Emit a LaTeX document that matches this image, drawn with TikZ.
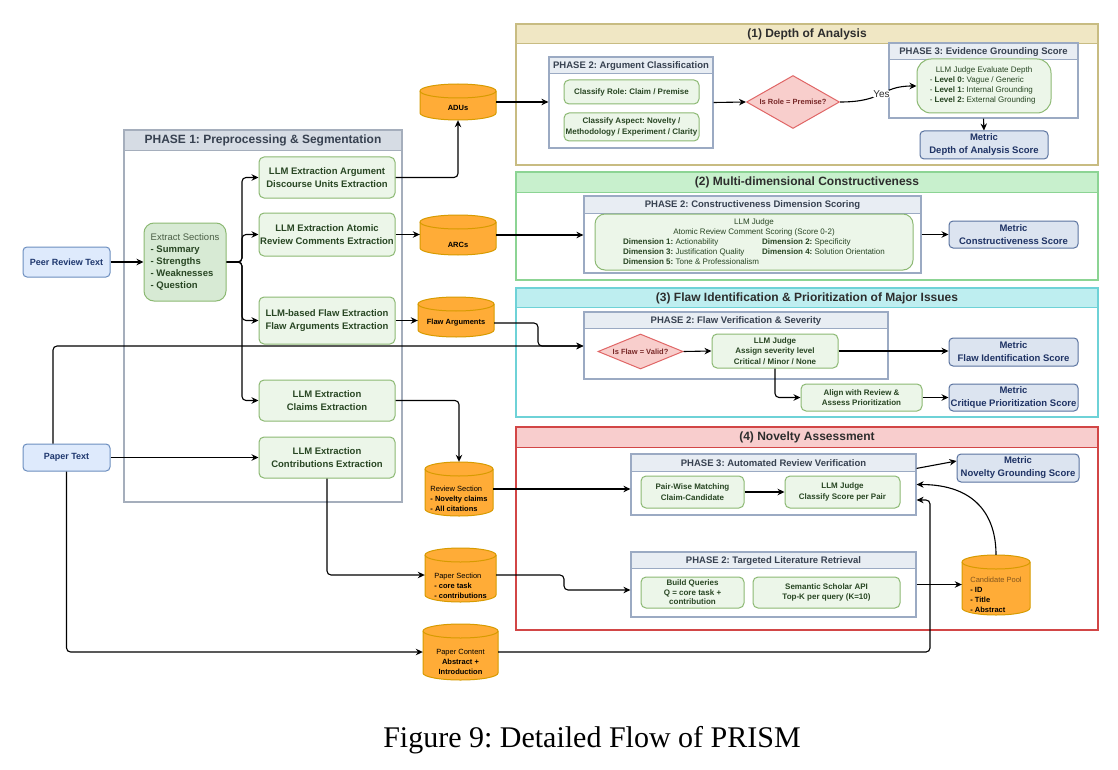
\documentclass[tikz,border=0pt]{standalone}
\usepackage{fontspec}
\setmainfont{Liberation Sans}
\newfontfamily\capfont{Liberation Serif}
\usetikzlibrary{shapes.geometric,arrows.meta,calc}
\frenchspacing
\definecolor{inB}{RGB}{108,142,191}
\definecolor{inF}{RGB}{222,234,252}
\definecolor{inT}{RGB}{30,55,110}
\definecolor{gB}{RGB}{140,185,115}
\definecolor{gD}{RGB}{215,234,212}
\definecolor{gL}{RGB}{236,246,233}
\definecolor{gT}{RGB}{40,70,35}
\definecolor{gT2}{RGB}{75,95,70}
\definecolor{mB}{RGB}{90,115,160}
\definecolor{mF}{RGB}{220,228,240}
\definecolor{mT}{RGB}{30,50,100}
\definecolor{dB}{RGB}{224,102,102}
\definecolor{dF}{RGB}{248,206,204}
\definecolor{dT}{RGB}{120,40,40}
\definecolor{cB}{RGB}{215,155,0}
\definecolor{cF}{RGB}{255,172,55}
\definecolor{cT}{RGB}{130,85,30}
\definecolor{phB}{RGB}{155,170,195}
\definecolor{phF}{RGB}{232,237,243}
\definecolor{phT}{RGB}{55,65,80}
\definecolor{p1B}{RGB}{165,174,188}
\definecolor{p1F}{RGB}{214,220,228}
\definecolor{aB}{RGB}{200,188,130}
\definecolor{aF}{RGB}{240,231,196}
\definecolor{bB}{RGB}{140,212,148}
\definecolor{bF}{RGB}{200,240,205}
\definecolor{cyB}{RGB}{110,210,215}
\definecolor{cyF}{RGB}{190,238,240}
\definecolor{rB}{RGB}{210,70,70}
\definecolor{rF}{RGB}{248,205,205}
\definecolor{secT}{RGB}{45,45,45}
\tikzset{
 base/.style={inner sep=1pt, align=center},
 inbox/.style={base, rounded corners=4pt, draw=inB, fill=inF, line width=1pt, text=inT, font=\fontsize{9}{11}\selectfont\bfseries},
 gdark/.style={base, rounded corners=10pt, draw=gB, fill=gD, line width=1pt, text=gT, font=\fontsize{9.5}{12}\selectfont\bfseries},
 gbox/.style={base, rounded corners=5pt, draw=gB, fill=gL, line width=1pt, text=gT, font=\fontsize{9.5}{13}\selectfont\bfseries},
 gsmall/.style={gbox, font=\fontsize{8}{10.5}\selectfont\bfseries},
 gjudge/.style={gbox, rounded corners=12pt, font=\fontsize{8}{10}\selectfont\mdseries},
 metric/.style={base, rounded corners=4pt, draw=mB, fill=mF, line width=1pt, text=mT, font=\fontsize{9.5}{13}\selectfont\bfseries},
 diam/.style={diamond, draw=dB, fill=dF, line width=1pt, text=dT, inner sep=0, font=\fontsize{7.5}{9}\selectfont\bfseries},
 cylst/.style={draw=cB, fill=cF, line width=1pt},
 cyltext/.style={inner sep=0, font=\fontsize{7.5}{10}\selectfont, text=black},
 ph/.style={draw=phB, fill=white, line width=1.2pt, inner sep=0},
 phh/.style={draw=phB, fill=phF, line width=1.2pt, inner sep=0, text=phT, font=\fontsize{9.5}{11}\selectfont\bfseries},
 pone/.style={draw=p1B, fill=white, line width=1.2pt, inner sep=0},
 poneh/.style={draw=p1B, fill=p1F, line width=1.2pt, inner sep=0, text=phT, font=\fontsize{12}{14}\selectfont\bfseries},
 secA/.style={draw=aB, fill=white, line width=1.2pt, inner sep=0},
 secAh/.style={draw=aB, fill=aF, line width=1.2pt, inner sep=0, text=secT, font=\fontsize{12}{14}\selectfont\bfseries},
 secB/.style={draw=bB, fill=white, line width=1.2pt, inner sep=0},
 secBh/.style={draw=bB, fill=bF, line width=1.2pt, inner sep=0, text=secT, font=\fontsize{12}{14}\selectfont\bfseries},
 secC/.style={draw=cyB, fill=white, line width=1.2pt, inner sep=0},
 secCh/.style={draw=cyB, fill=cyF, line width=1.2pt, inner sep=0, text=secT, font=\fontsize{12}{14}\selectfont\bfseries},
 secD/.style={draw=rB, fill=white, line width=1.2pt, inner sep=0},
 secDh/.style={draw=rB, fill=rF, line width=1.2pt, inner sep=0, text=secT, font=\fontsize{12}{14}\selectfont\bfseries},
 arr/.style={draw=black, line width=1.1pt, -{Stealth[length=7pt,width=6.5pt]}, rounded corners=4pt},
 ln/.style={draw=black, line width=1.1pt, rounded corners=4pt},
}
% container: name, x1, y1, x2, y2, header height, style, title
\newcommand\contbox[8]{%
 \node[#7, minimum width={#4-#2}, minimum height={#5-#3}] (#1) at ({(#2+#4)/2},{-(#3+#5)/2}) {};
 \node[#7h, minimum width={#4-#2}, minimum height={#6}, anchor=north] (#1h) at ({(#2+#4)/2},{-#3}) {#8};
}
% cylinder: name, cx, cy, w, h, text shift, align, text
\newcommand\cylnode[8]{%
 \pgfmathsetmacro\cyX{#2}\pgfmathsetmacro\cyY{-#3}\pgfmathsetmacro\cyR{#4/2}\pgfmathsetmacro\cyH{#5/2}
 \draw[cylst] (\cyX-\cyR,\cyY+\cyH-7) -- (\cyX-\cyR,\cyY-\cyH+7) arc[start angle=180,end angle=360,x radius=\cyR pt,y radius=7pt] -- (\cyX+\cyR,\cyY+\cyH-7) arc[start angle=0,end angle=180,x radius=\cyR pt,y radius=7pt] -- cycle;
 \draw[cylst,fill=none] (\cyX-\cyR,\cyY+\cyH-7) arc[start angle=180,end angle=360,x radius=\cyR pt,y radius=7pt];
 \node[inner sep=0, minimum width=#4, minimum height=#5] (#1) at (#2,-#3) {};
 \node[cyltext, align=#7] (#1t) at (#2,{-#3-#6}) {#8};
}
\begin{document}
\begin{tikzpicture}[x=1pt,y=1pt]
\useasboundingbox (0,0) rectangle (1118,-770);
\fill[white] (0,0) rectangle (1118,-770);

% ---------- containers ----------
\contbox{pone}{124}{130}{402}{502}{20}{pone}{PHASE 1: Preprocessing \& Segmentation}
\contbox{secA}{516}{24}{1098}{165}{19}{secA}{(1) Depth of Analysis}
\contbox{secB}{516}{172}{1098}{280}{20}{secB}{(2) Multi-dimensional Constructiveness}
\contbox{secC}{516}{288}{1098}{417}{19}{secC}{(3) Flaw Identification \& Prioritization of Major Issues}
\contbox{secD}{516}{427}{1098}{630}{20}{secD}{(4) Novelty Assessment}
\contbox{p2a}{549}{57}{713}{148}{16}{ph}{PHASE 2: Argument Classification}
\contbox{p3a}{889}{43}{1078}{118}{16}{ph}{PHASE 3: Evidence Grounding Score}
\contbox{p2b}{584}{196}{921}{273}{17}{ph}{PHASE 2: Constructiveness Dimension Scoring}
\contbox{p2c}{584}{312}{888}{379}{16}{ph}{PHASE 2: Flaw Verification \& Severity}
\contbox{p3d}{631}{454}{916}{515}{17}{ph}{PHASE 3: Automated Review Verification}
\contbox{p2d}{631}{552}{916}{617}{16}{ph}{PHASE 2: Targeted Literature Retrieval}

% ---------- inputs ----------
\node[inbox, minimum width=87, minimum height=30] (peer) at (66.5,-262) {Peer Review Text};
\node[inbox, minimum width=87, minimum height=27] (paper) at (66.5,-457.5) {Paper Text};

% ---------- phase 1 ----------
\node[gdark, minimum width=82, minimum height=78, align=left] (extract) at (185,-262)
  {{\mdseries\color{gT2}Extract Sections}\\- Summary\\- Strengths\\- Weaknesses\\- Question};
\node[gbox, minimum width=136, minimum height=41] (llmA) at (327,-177.5) {LLM Extraction Argument\\Discourse Units Extraction};
\node[gbox, minimum width=136, minimum height=43] (llmB) at (327,-234.5) {LLM Extraction Atomic\\Review Comments Extraction};
\node[gbox, minimum width=136, minimum height=47] (llmC) at (327,-320.5) {LLM-based Flaw Extraction\\Flaw Arguments Extraction};
\node[gbox, minimum width=136, minimum height=41] (llmD) at (327,-400.5) {LLM Extraction\\Claims Extraction};
\node[gbox, minimum width=136, minimum height=41] (llmE) at (327,-457.5) {LLM Extraction\\Contributions Extraction};

% ---------- cylinders ----------
\cylnode{adus}{458}{102}{76}{36}{6}{center}{\textbf{ADUs}}
\cylnode{arcs}{458}{235}{76}{40}{10}{center}{\textbf{ARCs}}
\cylnode{flaw}{456}{317}{76}{40}{6}{center}{\textbf{Flaw Arguments}}
\cylnode{review}{459}{489}{68}{54}{10}{left}{Review Section\\\textbf{- Novelty claims}\\\textbf{- All citations}}
\cylnode{psec}{460.5}{575}{71}{54}{11}{left}{Paper Section\\\textbf{- core task}\\\textbf{- contributions}}
\cylnode{pcont}{460.5}{652}{75}{56}{10}{center}{Paper Content\\\textbf{Abstract +}\\\textbf{Introduction}}
\cylnode{pool}{996}{585}{68}{60}{10}{left}{{\color{cT}Candidate Pool}\\\textbf{- ID}\\\textbf{- Title}\\\textbf{- Abstract}}

% ---------- section 1 ----------
\node[gsmall, minimum width=135, minimum height=24] (crole) at (631.5,-92) {Classify Role: Claim / Premise};
\node[gsmall, minimum width=135, minimum height=28] (caspect) at (631.5,-127) {Classify Aspect: Novelty /\\Methodology / Experiment / Clarity};
\node[diam, aspect=1.75, minimum width=93, minimum height=53] (d1) at (793,-102) {Is Role = Premise?};
\node[gjudge, minimum width=134, minimum height=54, rounded corners=14pt] (jd) at (984,-86)
  {\begin{tabular}{@{}l@{}}\multicolumn{1}{c}{LLM Judge Evaluate Depth}\\- \textbf{Level 0:} Vague / Generic\\- \textbf{Level 1:} Internal Grounding\\- \textbf{Level 2:} External Grounding\end{tabular}};
\node[metric, minimum width=128, minimum height=28] (md) at (984,-145) {Metric\\Depth of Analysis Score};

% ---------- section 2 ----------
\node[gjudge, minimum width=318, minimum height=56, rounded corners=10pt] (j2) at (754,-242)
  {\begin{tabular}{@{}l@{\hspace{3pt}}l@{}}\multicolumn{2}{c}{LLM Judge}\\\multicolumn{2}{c}{Atomic Review Comment Scoring (Score 0-2)}\\
  \textbf{Dimension 1:} Actionability & \textbf{Dimension 2:} Specificity\\
  \textbf{Dimension 3:} Justification Quality & \textbf{Dimension 4:} Solution Orientation\\
  \textbf{Dimension 5:} Tone \& Professionalism & \end{tabular}};
\node[metric, minimum width=129, minimum height=27] (mcon) at (1013.5,-234.5) {Metric\\Constructiveness Score};

% ---------- section 3 ----------
\node[diam, aspect=2.43, minimum width=85, minimum height=35] (d2) at (640.5,-351.5) {Is Flaw = Valid?};
\node[gsmall, minimum width=126, minimum height=34] (j3) at (775,-351) {LLM Judge\\Assign severity level\\Critical / Minor / None};
\node[gsmall, minimum width=121, minimum height=27] (align) at (861.5,-397.5) {Align with Review \&\\Assess Prioritization};
\node[metric, minimum width=129, minimum height=28] (mflaw) at (1013.5,-352) {Metric\\Flaw Identification Score};
\node[metric, minimum width=129, minimum height=27] (mcrit) at (1013.5,-397.5) {Metric\\Critique Prioritization Score};

% ---------- section 4 ----------
\node[gsmall, minimum width=103, minimum height=32] (pair) at (692.5,-492) {Pair-Wise Matching\\Claim-Candidate};
\node[gsmall, minimum width=115, minimum height=32] (j4) at (842.5,-492) {LLM Judge\\Classify Score per Pair};
\node[metric, minimum width=122, minimum height=28] (mnov) at (1018,-468) {Metric\\Novelty Grounding Score};
\node[gsmall, minimum width=103, minimum height=31, font=\fontsize{8}{9.5}\selectfont\bfseries] (bq) at (692.5,-592.5) {Build Queries\\Q = core task +\\contribution};
\node[gsmall, minimum width=147, minimum height=31] (sem) at (826.5,-592.5) {Semantic Scholar API\\Top-K per query (K=10)};

% ---------- connectors ----------
\coordinate (br) at (242,-262);
\coordinate (fj) at (538,-346);
\coordinate (pj) at (564,-590);
\coordinate (cj) at (930,-500);
\draw[arr] (peer.east) -- (extract.west);
\draw[arr] (extract.east) -- (br) |- (llmA.west);
\draw[arr] (extract.east) -- (br) |- (llmB.west);
\draw[arr] (extract.east) -- (br) |- (llmC.west);
\draw[arr] (extract.east) -- (br) |- (llmD.west);
\draw[arr] (llmA.east) -| (adus.south);
\draw[arr] (adus.east) -- (adus.east -| p2a.west);
\draw[arr] (llmB.east) -- (llmB.east -| arcs.west);
\draw[arr] (arcs.east) -- (arcs.east -| p2b.west);
\draw[arr] (llmC.east) -- (llmC.east -| flaw.west);
\draw[arr] ($(flaw.east)+(0,-6)$) -| (fj) -- (fj -| p2c.west);
\draw[arr] ([xshift=-13.5pt]paper.north) |- (fj -| p2c.west);
\draw[arr] (llmD.east) -| (review.north);
\draw[arr] (paper.east) -- (llmE.west);
\draw[arr] (llmE.south) |- (psec.west);
\draw[arr] (paper.south) |- (pcont.west);
\draw[arr] (review.east) -- (review.east -| p3d.west);
\draw[arr] (psec.east) -| (pj) -- (pj -| p2d.west);
\draw[arr] (pcont.east) -| (cj) -- (cj -| p3d.east);
\draw[arr] (pool.north) .. controls (996,-515) and (975,-484.5) .. (p3d.east);
\draw[arr] ($(p3d.north east)+(0,-15)$) -- ($(mnov.west)+(0,7)$);
\draw[arr] (p2d.east) -- (p2d.east -| pool.west);
\draw[arr] (pair.east) -- (j4.west);
\draw[arr] (p2a.east) -- (d1.west);
\draw[arr] (d1.east) .. controls (885,-102) and (880,-86) .. (jd.west)
  node[pos=0.5, fill=white, inner sep=1pt, font=\fontsize{10}{12}\selectfont, text=secT] (yes) {Yes};
\draw[arr] (p3a.south) -- (md.north);
\draw[arr] (p2b.east) -- (p2b.east -| mcon.west);
\draw[arr] (d2.east) -- (j3.west);
\draw[arr] (j3.east) -- (j3.east -| mflaw.west);
\draw[arr] (j3.south) |- (align.west);
\draw[arr] (align.east) -- (mcrit.west);

% ---------- caption ----------
\node[font=\capfont\fontsize{30}{34}\selectfont, inner sep=0] (cap) at (592,-740) {Figure 9: Detailed Flow of PRISM};
\end{tikzpicture}
\end{document}
